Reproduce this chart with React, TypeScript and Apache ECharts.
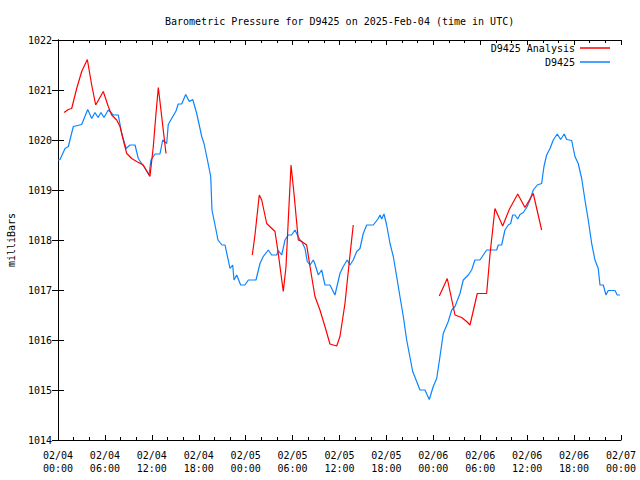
import React, { useEffect, useRef } from "react";
import * as echarts from "echarts";

const TITLE = "Barometric Pressure for D9425 on 2025-Feb-04 (time in UTC)";
const Y_NAME = "milliBars";
const OBS_NAME = "D9425";
const ANA_NAME = "D9425 Analysis";

// hours since 2025-02-04 00:00 UTC
const obsHours = [
  0, 0.26, 0.9, 1.32, 1.96, 3.03, 3.8, 4.31, 4.73, 5.12, 5.5, 5.88, 6.14, 6.43, 7.07, 7.71, 8.15, 8.7,
  9.21, 9.85, 10.27, 11.13, 11.64, 11.89, 12.4, 13.04, 13.39, 13.9, 14.1, 15.09, 15.38, 15.82, 16.33,
  16.79, 17.23, 17.74, 18.38, 18.67, 19.02, 19.53, 19.69, 20.08, 20.46, 20.97, 21.36, 22.0, 22.34,
  22.51, 22.85, 23.36, 23.91, 24.34, 25.32, 25.83, 26.25, 26.89, 27.33, 27.97, 28.17, 28.61, 29.03,
  29.45, 29.88, 30.31, 30.52, 30.95, 31.16, 31.59, 31.88, 32.23, 32.65, 32.86, 33.29, 33.72, 34.14,
  34.78, 35.42, 36.06, 36.48, 36.99, 37.34, 37.76, 38.2, 38.62, 39.04, 39.48, 40.32, 40.96, 41.18,
  41.39, 41.69, 42.03, 42.46, 42.88, 43.31, 43.73, 44.16, 44.59, 44.92, 45.36, 45.87, 46.29, 46.93,
  47.48, 47.99, 48.43, 48.85, 49.27, 49.91, 50.35, 50.77, 51.41, 51.83, 52.47, 52.9, 53.32, 53.96,
  54.39, 54.82, 56.1, 56.3, 56.74, 57.16, 57.58, 57.89, 58.15, 58.44, 58.79, 59.08, 59.5, 59.94,
  60.36, 60.78, 61.29, 61.85, 62.15, 62.49, 62.92, 63.34, 63.85, 64.28, 64.74, 65.05, 65.69, 66.11,
  66.53, 66.97, 67.39, 67.81, 68.25, 68.67, 69.09, 69.31, 69.73, 70.08, 70.37, 71.23, 71.52, 71.87,
];
const obsValues = [
  1019.6, 1019.61, 1019.83, 1019.87, 1020.27, 1020.31, 1020.61, 1020.43, 1020.55, 1020.45, 1020.55,
  1020.45, 1020.52, 1020.6, 1020.5, 1020.5, 1020.13, 1019.83, 1019.9, 1019.9, 1019.63, 1019.43,
  1019.3, 1019.6, 1019.72, 1019.72, 1020.0, 1019.93, 1020.31, 1020.58, 1020.72, 1020.72, 1020.91,
  1020.77, 1020.81, 1020.53, 1020.07, 1019.93, 1019.67, 1019.27, 1018.6, 1018.3, 1018.0, 1017.9,
  1017.9, 1017.43, 1017.5, 1017.2, 1017.3, 1017.1, 1017.1, 1017.2, 1017.2, 1017.53, 1017.67, 1017.8,
  1017.7, 1017.7, 1017.79, 1017.7, 1018.0, 1018.1, 1018.1, 1018.2, 1018.13, 1018.0, 1017.97, 1017.83,
  1017.57, 1017.5, 1017.6, 1017.52, 1017.3, 1017.4, 1017.1, 1017.1, 1016.9, 1017.33, 1017.47, 1017.6,
  1017.5, 1017.6, 1017.77, 1017.83, 1018.13, 1018.3, 1018.3, 1018.43, 1018.5, 1018.42, 1018.52,
  1018.3, 1017.93, 1017.67, 1017.27, 1016.87, 1016.47, 1016.0, 1015.73, 1015.37, 1015.17, 1015.0,
  1015.0, 1014.81, 1015.07, 1015.23, 1015.67, 1016.13, 1016.37, 1016.6, 1016.67, 1016.93, 1017.2,
  1017.3, 1017.4, 1017.6, 1017.6, 1017.7, 1017.8, 1017.8, 1017.9, 1017.9, 1018.2, 1018.3, 1018.33,
  1018.5, 1018.5, 1018.42, 1018.51, 1018.55, 1018.65, 1018.8, 1019.0, 1019.1, 1019.13, 1019.47,
  1019.7, 1019.83, 1020.0, 1020.12, 1020.01, 1020.12, 1020.01, 1019.99, 1019.67, 1019.53, 1019.23,
  1018.8, 1018.4, 1017.93, 1017.6, 1017.43, 1017.1, 1017.1, 1016.9, 1016.99, 1016.99, 1016.9, 1016.9,
];

// analysis: null marks a gap between runs
const anaHours = [
  0.77, 1.32, 1.75, 2.39, 3.03, 3.75, 4.31, 4.82, 5.79, 6.43, 6.87, 7.51, 7.93, 8.35, 8.79, 9.42,
  10.06, 10.91, 11.76, 12.19, 12.53, 12.83, 13.26, 13.81, 19.0,
  24.85, 25.19, 25.74, 26.05, 26.69, 27.75, 28.17, 28.81, 29.16, 29.45, 29.8, 30.18, 30.73, 31.16,
  31.8, 32.23, 32.86, 33.5, 34.14, 34.78, 35.64, 36.06, 36.7, 37.34, 37.76, 43.0,
  48.76, 49.78, 50.77, 51.62, 52.26, 52.69, 53.62, 54.82, 55.24, 55.88, 56.87, 57.71, 58.79, 59.72,
  60.78, 61.85,
];
const anaValues = [
  1020.55, 1020.61, 1020.63, 1021.03, 1021.37, 1021.61, 1021.1, 1020.7, 1020.97, 1020.67, 1020.5,
  1020.4, 1020.27, 1020.0, 1019.73, 1019.63, 1019.57, 1019.5, 1019.27, 1019.87, 1020.53, 1021.05,
  1020.47, 1019.73, null,
  1017.7, 1018.1, 1018.9, 1018.8, 1018.33, 1018.17, 1017.73, 1016.97, 1017.47, 1018.4, 1019.5,
  1018.93, 1018.0, 1017.97, 1017.9, 1017.47, 1016.87, 1016.6, 1016.27, 1015.92, 1015.88, 1016.07,
  1016.73, 1017.7, 1018.3, null,
  1016.88, 1017.23, 1016.5, 1016.45, 1016.37, 1016.3, 1016.93, 1016.93, 1017.7, 1018.63, 1018.28,
  1018.61, 1018.92, 1018.65, 1018.93, 1018.2,
];

const X_MIN = 0;
const X_MAX = 72;
const X_STEP = 6;
const Y_MIN = 1014;
const Y_MAX = 1022;
const Y_STEP = 1;

const FONT = "DejaVu Sans Mono";

function timeLabel(h: number): string {
  const day = 4 + Math.floor(h / 24);
  const hh = h % 24;
  const p = (n: number) => (n < 10 ? "0" + n : "" + n);
  return `02/${p(day)}\n${p(hh)}:00`;
}

export default function App() {
  const ref = useRef<HTMLDivElement>(null);
  useEffect(() => {
    if (!ref.current) return;
    const chart = echarts.init(ref.current, undefined, { renderer: "svg" });
    const obsData = obsHours.map((h, i) => [h, obsValues[i]]);
    const anaData = anaHours.map((h, i) => [h, anaValues[i] === null ? "-" : anaValues[i]]);
    const tickStyle = { lineStyle: { color: "#000", width: 1 } };
    const baseX = {
      type: "value" as const,
      min: X_MIN,
      max: X_MAX,
      interval: X_STEP,
      splitLine: { show: false },
      axisLine: { lineStyle: { color: "#000", width: 1 } },
      axisTick: { inside: true, length: 5, ...tickStyle },
      minorTick: { show: true, splitNumber: 3, length: 3, ...tickStyle },
    };
    const baseY = {
      type: "value" as const,
      min: Y_MIN,
      max: Y_MAX,
      interval: Y_STEP,
      splitLine: { show: false },
      axisLine: { show: true, lineStyle: { color: "#000", width: 1 } },
      axisTick: { show: true, inside: true, length: 6, ...tickStyle },
    };
    const legendBase = {
      right: 25,
      align: "right",
      icon: "rect",
      itemWidth: 30,
      itemHeight: 1.5,
      textStyle: { fontFamily: FONT, fontSize: 10, color: "#000" },
      selectedMode: false,
    };
    chart.setOption({
      animation: false,
      backgroundColor: "#fff",
      title: {
        text: TITLE,
        left: 160,
        top: 11,
        textStyle: { fontFamily: FONT, fontSize: 10, fontWeight: "normal", color: "#000" },
      },
      legend: [
        { ...legendBase, data: [ANA_NAME], top: 38 },
        { ...legendBase, data: [OBS_NAME], top: 52 },
      ],
      grid: { left: 58, right: 19, top: 40, bottom: 40, containLabel: false, outerBoundsMode: "none" },
      xAxis: [
        {
          ...baseX,
          position: "bottom",
          axisLabel: {
            formatter: (v: number) => timeLabel(v),
            fontFamily: FONT,
            fontSize: 10,
            color: "#000",
            margin: 9,
            lineHeight: 13,
          },
        },
        { ...baseX, position: "top", axisLabel: { show: false } },
      ],
      yAxis: [
        {
          ...baseY,
          position: "left",
          name: Y_NAME,
          nameLocation: "middle",
          nameRotate: 90,
          nameGap: 42,
          nameTextStyle: { fontFamily: FONT, fontSize: 10, color: "#000" },
          axisLabel: {
            fontFamily: FONT,
            fontSize: 10,
            color: "#000",
            margin: 6,
            formatter: (v: number) => String(v),
          },
        },
        { ...baseY, position: "right", axisLabel: { show: false } },
      ],
      series: [
        {
          name: ANA_NAME,
          type: "line",
          data: anaData,
          showSymbol: false,
          symbol: "none",
          connectNulls: false,
          lineStyle: { color: "#ff0000", width: 1.2 },
          itemStyle: { color: "#ff0000" },
          z: 3,
        },
        {
          name: OBS_NAME,
          type: "line",
          data: obsData,
          showSymbol: false,
          symbol: "none",
          lineStyle: { color: "#0a84ff", width: 1.2 },
          itemStyle: { color: "#0a84ff" },
          z: 2,
        },
      ],
    });
    return () => chart.dispose();
  }, []);
  return <div ref={ref} style={{ width: 640, height: 480, position: "fixed", left: 0, top: 0 }} />;
}
